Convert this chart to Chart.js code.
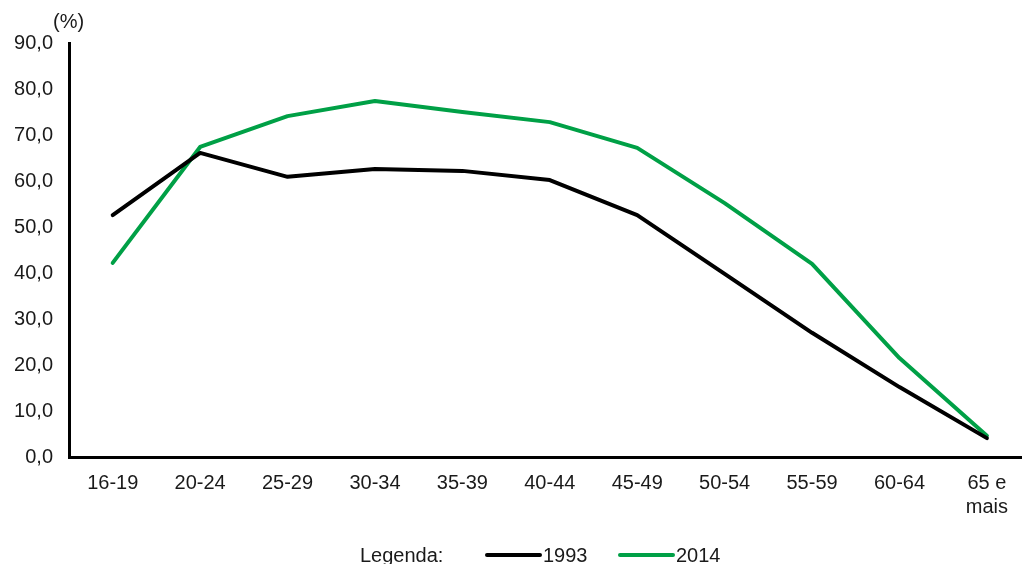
<!DOCTYPE html>
<html>
<head>
<meta charset="utf-8">
<script src="https://cdn.jsdelivr.net/npm/chart.js@4/dist/chart.umd.min.js"></script>
<style>
  html, body { margin: 0; padding: 0; background: #fff; }
  #wrap { width: 1022px; height: 564px; position: relative; }
</style>
</head>
<body>
<div id="wrap"><canvas id="taxaChart"></canvas></div>
<script>
// Faixas etárias e taxas (%) por ano
const faixas = ['16-19', '20-24', '25-29', '30-34', '35-39', '40-44', '45-49', '50-54', '55-59', '60-64', ['65 e', 'mais']];
const taxa1993 = [52.6, 66.1, 60.9, 62.6, 62.2, 60.2, 52.6, 39.8, 27.0, 15.2, 4.1];
const taxa2014 = [42.2, 67.4, 74.1, 77.4, 75.0, 72.8, 67.2, 55.2, 42.0, 21.5, 4.6];
const yTicks = [0, 10, 20, 30, 40, 50, 60, 70, 80, 90];

const FONT = 'Liberation Sans, Arial, sans-serif';
const VERDE = '#00a046';

const toPoints = arr => arr.map((v, i) => ({ x: i, y: v }));

// desenha "(%)" e a legenda embaixo
const extras = {
  id: 'extras',
  afterDraw(chart) {
    const ctx = chart.ctx;
    ctx.save();
    ctx.fillStyle = '#1a1a1a';
    ctx.font = '20px ' + FONT;
    ctx.textBaseline = 'middle';
    ctx.textAlign = 'left';
    ctx.fillText('(%)', 53, 22);

    const y = 555;
    ctx.fillText('Legenda:', 360, y + 1);
    let x = 487;
    chart.data.datasets.forEach(ds => {
      ctx.strokeStyle = ds.borderColor;
      ctx.lineWidth = 4;
      ctx.lineCap = 'round';
      ctx.beginPath();
      ctx.moveTo(x, y);
      ctx.lineTo(x + 53, y);
      ctx.stroke();
      ctx.fillStyle = '#1a1a1a';
      ctx.fillText(ds.label, x + 56, y + 1);
      x += 133;
    });
    ctx.restore();
  }
};

new Chart(document.getElementById('taxaChart'), {
  type: 'line',
  data: {
    datasets: [
      { label: '1993', data: toPoints(taxa1993), borderColor: '#000000', borderWidth: 4 },
      { label: '2014', data: toPoints(taxa2014), borderColor: VERDE, borderWidth: 4 }
    ]
  },
  options: {
    responsive: true,
    maintainAspectRatio: false,
    animation: false,
    layout: { padding: { top: 43, right: 0, left: 0, bottom: 0 } },
    elements: {
      point: { radius: 0 },
      line: { tension: 0, borderJoinStyle: 'round', borderCapStyle: 'round' }
    },
    plugins: { legend: { display: false }, tooltip: { enabled: false } },
    scales: {
      x: {
        type: 'linear',
        min: -0.5,
        max: 10.4,
        grid: { display: false, drawTicks: false },
        border: { color: '#000', width: 3 },
        afterBuildTicks: s => { s.ticks = faixas.map((f, i) => ({ value: i })); },
        afterFit: s => { s.height = 107; },
        ticks: {
          autoSkip: false,
          maxRotation: 0,
          padding: 14,
          color: '#1a1a1a',
          font: { family: FONT, size: 20, lineHeight: 1.2 },
          callback: v => faixas[v]
        }
      },
      y: {
        min: 0,
        max: 90,
        grid: { display: false, drawTicks: false },
        border: { color: '#000', width: 3 },
        afterBuildTicks: s => { s.ticks = yTicks.map(v => ({ value: v })); },
        afterFit: s => { s.width = 69; },
        ticks: {
          padding: 16,
          color: '#1a1a1a',
          font: { family: FONT, size: 20 },
          callback: v => v.toFixed(1).replace('.', ',')
        }
      }
    }
  },
  plugins: [extras]
});
</script>
</body>
</html>
